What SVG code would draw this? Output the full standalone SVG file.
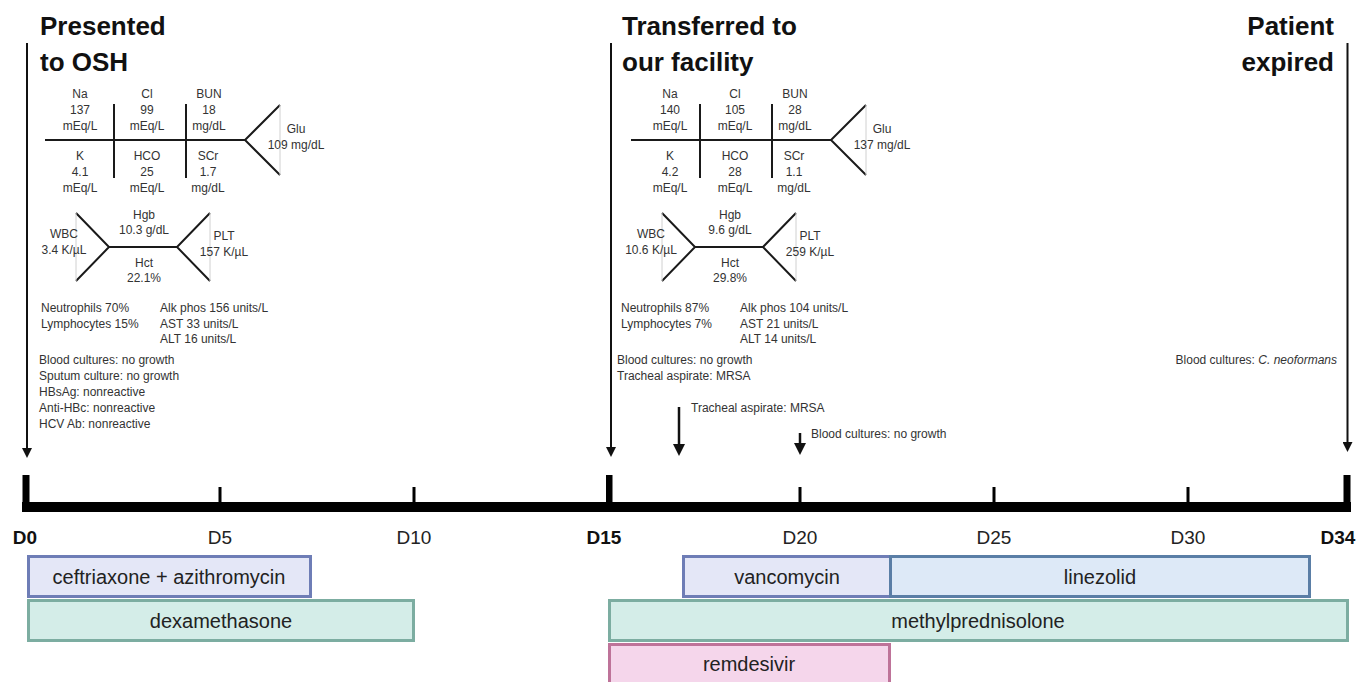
<svg xmlns="http://www.w3.org/2000/svg" width="1359" height="682" viewBox="0 0 1359 682">
<defs>
<style>
.title{font-family:"Liberation Sans",Arial,sans-serif;font-size:26px;font-weight:bold;fill:#111}
.lab{font-family:"Liberation Sans",Arial,sans-serif;font-size:12px;fill:#333}
.labc{font-family:"Liberation Sans",Arial,sans-serif;font-size:12px;fill:#333;text-anchor:middle}
.day{font-family:"Liberation Sans",Arial,sans-serif;font-size:19px;fill:#222;text-anchor:middle}
.dayb{font-family:"Liberation Sans",Arial,sans-serif;font-size:19px;font-weight:bold;fill:#111;text-anchor:middle}
.bar{font-family:"Liberation Sans",Arial,sans-serif;font-size:20px;fill:#222;text-anchor:middle}
.fb{stroke:#1a1a1a;stroke-width:2;fill:none}
.fbg{stroke:#d0d0d0;stroke-width:1;fill:none}
.arr{stroke:#111;stroke-width:2;fill:none;marker-end:url(#ah)}
.arr2{stroke:#111;stroke-width:2.5;fill:none;marker-end:url(#ah2)}
.abx{fill:#e4e7f7;stroke:#6e7db6;stroke-width:3}
.lin{fill:#dde9f7;stroke:#5a7ea6;stroke-width:3}
.st{fill:#d4ede8;stroke:#7cada1;stroke-width:3}
.rem{fill:#f5d6eb;stroke:#be7399;stroke-width:3}
</style>
<marker id="ah" markerUnits="userSpaceOnUse" markerWidth="10" markerHeight="10" refX="2" refY="5" orient="auto">
<path d="M0,0 L10,5 L0,10 z" fill="#111"/>
</marker>
<marker id="ah2" markerUnits="userSpaceOnUse" markerWidth="12" markerHeight="12" refX="2" refY="6" orient="auto">
<path d="M0,0 L12,6 L0,12 z" fill="#111"/>
</marker>
</defs>
<rect width="1359" height="682" fill="#fff"/>

<g id="timeline">
<rect x="22" y="502" width="1329" height="10" fill="#000"/>
<rect x="22.5" y="475" width="7" height="32" fill="#000"/>
<rect x="606" y="475" width="6.5" height="32" fill="#000"/>
<rect x="1343.5" y="475" width="7" height="32" fill="#000"/>
<rect x="218.5" y="487" width="3" height="17" fill="#000"/>
<rect x="412.5" y="487" width="3" height="17" fill="#000"/>
<rect x="798.5" y="487" width="3" height="17" fill="#000"/>
<rect x="992.5" y="487" width="3" height="17" fill="#000"/>
<rect x="1186.5" y="487" width="3" height="17" fill="#000"/>
<text class="dayb" x="25" y="544">D0</text>
<text class="day" x="220" y="544">D5</text>
<text class="day" x="414" y="544">D10</text>
<text class="dayb" x="604" y="544">D15</text>
<text class="day" x="800" y="544">D20</text>
<text class="day" x="994" y="544">D25</text>
<text class="day" x="1188" y="544">D30</text>
<text class="dayb" x="1338" y="544">D34</text>
</g>

<g id="connectors">
<line class="arr" x1="27" y1="43" x2="27" y2="450"/>
<line class="arr" x1="611" y1="43" x2="611" y2="449"/>
<line class="arr" x1="1347.5" y1="43" x2="1347.5" y2="444"/>
<line class="arr2" x1="679" y1="407" x2="679" y2="446"/>
<line class="arr2" x1="800" y1="433" x2="800" y2="445"/>
</g>

<g id="presented">
<text class="title" x="40" y="35">Presented</text>
<text class="title" x="40" y="71">to OSH</text>
<path class="fb" d="M45,140 H245 M114,104 V178 M186,104 V178 M280,105 L245,140 L280,175"/>
<path class="fbg" d="M280,105 V175"/>
<text class="labc" x="80" y="97.5">Na</text><text class="labc" x="80" y="113.5">137</text><text class="labc" x="80" y="129.5">mEq/L</text>
<text class="labc" x="147" y="97.5">Cl</text><text class="labc" x="147" y="113.5">99</text><text class="labc" x="147" y="129.5">mEq/L</text>
<text class="labc" x="209" y="97.5">BUN</text><text class="labc" x="209" y="113.5">18</text><text class="labc" x="209" y="129.5">mg/dL</text>
<text class="labc" x="80" y="159.5">K</text><text class="labc" x="80" y="175.5">4.1</text><text class="labc" x="80" y="191.5">mEq/L</text>
<text class="labc" x="147" y="159.5">HCO</text><text class="labc" x="147" y="175.5">25</text><text class="labc" x="147" y="191.5">mEq/L</text>
<text class="labc" x="208" y="159.5">SCr</text><text class="labc" x="208" y="175.5">1.7</text><text class="labc" x="208" y="191.5">mg/dL</text>
<text class="labc" x="296" y="132.5">Glu</text><text class="labc" x="296" y="148.5">109 mg/dL</text>
<path class="fb" d="M76,213 L109,247 L76,281 M109,247 H177 M210,213 L177,247 L210,281"/>
<path class="fbg" d="M76,213 V281 M210,213 V281"/>
<text class="labc" x="144" y="218.5">Hgb</text><text class="labc" x="144" y="233.5">10.3 g/dL</text>
<text class="labc" x="144" y="266.5">Hct</text><text class="labc" x="144" y="281.5">22.1%</text>
<text class="labc" x="64" y="237.5">WBC</text><text class="labc" x="64" y="253.5">3.4 K/µL</text>
<text class="labc" x="224" y="239.5">PLT</text><text class="labc" x="224" y="255.5">157 K/µL</text>
<text class="lab" x="41" y="311.5">Neutrophils 70%</text>
<text class="lab" x="41" y="327.5">Lymphocytes 15%</text>
<text class="lab" x="160" y="311.5">Alk phos 156 units/L</text>
<text class="lab" x="160" y="327.5">AST 33 units/L</text>
<text class="lab" x="160" y="342.5">ALT 16 units/L</text>
<text class="lab" x="39" y="364">Blood cultures: no growth</text>
<text class="lab" x="39" y="380">Sputum culture: no growth</text>
<text class="lab" x="39" y="396">HBsAg: nonreactive</text>
<text class="lab" x="39" y="412">Anti-HBc: nonreactive</text>
<text class="lab" x="39" y="428">HCV Ab: nonreactive</text>
</g>

<g id="transferred">
<text class="title" x="622" y="35">Transferred to</text>
<text class="title" x="622" y="71">our facility</text>
<path class="fb" d="M631,140 H831 M700,104 V178 M772,104 V178 M866,105 L831,140 L866,175"/>
<path class="fbg" d="M866,105 V175"/>
<text class="labc" x="670" y="97.5">Na</text><text class="labc" x="670" y="113.5">140</text><text class="labc" x="670" y="129.5">mEq/L</text>
<text class="labc" x="735" y="97.5">Cl</text><text class="labc" x="735" y="113.5">105</text><text class="labc" x="735" y="129.5">mEq/L</text>
<text class="labc" x="795" y="97.5">BUN</text><text class="labc" x="795" y="113.5">28</text><text class="labc" x="795" y="129.5">mg/dL</text>
<text class="labc" x="670" y="159.5">K</text><text class="labc" x="670" y="175.5">4.2</text><text class="labc" x="670" y="191.5">mEq/L</text>
<text class="labc" x="735" y="159.5">HCO</text><text class="labc" x="735" y="175.5">28</text><text class="labc" x="735" y="191.5">mEq/L</text>
<text class="labc" x="794" y="159.5">SCr</text><text class="labc" x="794" y="175.5">1.1</text><text class="labc" x="794" y="191.5">mg/dL</text>
<text class="labc" x="882" y="132.5">Glu</text><text class="labc" x="882" y="148.5">137 mg/dL</text>
<path class="fb" d="M662,213 L695,247 L662,281 M695,247 H763 M796,213 L763,247 L796,281"/>
<path class="fbg" d="M662,213 V281 M796,213 V281"/>
<text class="labc" x="730" y="218.5">Hgb</text><text class="labc" x="730" y="233.5">9.6 g/dL</text>
<text class="labc" x="730" y="266.5">Hct</text><text class="labc" x="730" y="281.5">29.8%</text>
<text class="labc" x="651" y="237.5">WBC</text><text class="labc" x="651" y="253.5">10.6 K/µL</text>
<text class="labc" x="810" y="239.5">PLT</text><text class="labc" x="810" y="255.5">259 K/µL</text>
<text class="lab" x="621" y="311.5">Neutrophils 87%</text>
<text class="lab" x="621" y="327.5">Lymphocytes 7%</text>
<text class="lab" x="740" y="311.5">Alk phos 104 units/L</text>
<text class="lab" x="740" y="327.5">AST 21 units/L</text>
<text class="lab" x="740" y="342.5">ALT 14 units/L</text>
<text class="lab" x="617" y="364">Blood cultures: no growth</text>
<text class="lab" x="617" y="380">Tracheal aspirate: MRSA</text>
</g>

<g id="mid-events">
<text class="lab" x="691" y="411.5">Tracheal aspirate: MRSA</text>
<text class="lab" x="811" y="437.5">Blood cultures: no growth</text>
</g>

<g id="expired">
<text class="title" x="1334" y="35" text-anchor="end">Patient</text>
<text class="title" x="1334" y="71" text-anchor="end">expired</text>
<text class="lab" x="1337" y="363.5" text-anchor="end">Blood cultures: <tspan font-style="italic">C. neoformans</tspan></text>
</g>

<g id="bar-ceftriaxone">
<rect class="abx" x="28.5" y="556.5" width="282" height="40"/>
<text class="bar" x="169" y="583.5">ceftriaxone + azithromycin</text>
</g>
<g id="bar-dexamethasone">
<rect class="st" x="28.5" y="600.5" width="385" height="40"/>
<text class="bar" x="221" y="627.5">dexamethasone</text>
</g>
<g id="bar-vancomycin">
<rect class="abx" x="683.5" y="556.5" width="207" height="40"/>
<text class="bar" x="787" y="583.5">vancomycin</text>
</g>
<g id="bar-linezolid">
<rect class="lin" x="890.5" y="556.5" width="419" height="40"/>
<text class="bar" x="1100" y="583.5">linezolid</text>
</g>
<g id="bar-methylprednisolone">
<rect class="st" x="609.5" y="600.5" width="738" height="40"/>
<text class="bar" x="978" y="627.5">methylprednisolone</text>
</g>
<g id="bar-remdesivir">
<rect class="rem" x="609.5" y="644.5" width="280" height="44"/>
<text class="bar" x="749" y="671">remdesivir</text>
</g>
</svg>
